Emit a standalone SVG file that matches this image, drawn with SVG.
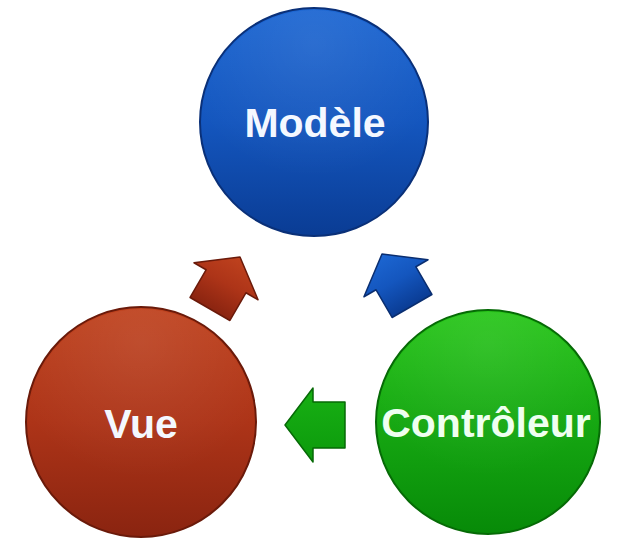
<svg xmlns="http://www.w3.org/2000/svg" width="623" height="542" viewBox="0 0 623 542">
<defs>
<linearGradient id="gBlue" x1="0" y1="0" x2="0" y2="1"><stop offset="0" stop-color="#1c66d2"/><stop offset="0.5" stop-color="#1456be"/><stop offset="1" stop-color="#0a3c94"/></linearGradient>
<linearGradient id="gRed" x1="0" y1="0" x2="0" y2="1"><stop offset="0" stop-color="#bf421e"/><stop offset="0.5" stop-color="#ad3418"/><stop offset="1" stop-color="#8a2410"/></linearGradient>
<linearGradient id="gGreen" x1="0" y1="0" x2="0" y2="1"><stop offset="0" stop-color="#28c61a"/><stop offset="0.5" stop-color="#16a812"/><stop offset="1" stop-color="#078a08"/></linearGradient>
<linearGradient id="gGreenA" x1="0" y1="0" x2="1" y2="0"><stop offset="0" stop-color="#0c9a0c"/><stop offset="1" stop-color="#18b014"/></linearGradient>
<radialGradient id="shine" cx="0.5" cy="0.15" r="0.6"><stop offset="0" stop-color="#fff" stop-opacity="0.08"/><stop offset="1" stop-color="#fff" stop-opacity="0"/></radialGradient>
<path id="arrow" d="M0,-30 L37,-2 L23,-2 L23,30 L-23,30 L-23,-2 L-37,-2 Z"/>
</defs>
<style>
.node circle.body{stroke-width:2}
.lbl{font-family:"Liberation Sans",Arial,sans-serif;font-weight:bold;font-size:41px;fill:#f4f8ff;text-anchor:middle}
.arr{stroke-width:1.5;stroke-linejoin:round}
</style>
<rect width="623" height="542" fill="#ffffff"/>
<g id="connectors">
<use href="#arrow" class="arr" fill="url(#gRed)" stroke="#6a1a0a" transform="translate(225,283) rotate(30)"/>
<use href="#arrow" class="arr" fill="url(#gBlue)" stroke="#0a2e70" transform="translate(397,280) rotate(-30)"/>
<use href="#arrow" class="arr" fill="url(#gGreenA)" stroke="#066a06" transform="translate(315,425) rotate(-90)"/>
</g>
<g id="modele" class="node">
<circle class="body" cx="314" cy="122" r="114" fill="url(#gBlue)" stroke="#0a3078"/>
<circle cx="314" cy="122" r="112" fill="url(#shine)"/>
<text class="lbl" x="315" y="137">Modèle</text>
</g>
<g id="vue" class="node">
<circle class="body" cx="141" cy="422" r="115" fill="url(#gRed)" stroke="#6a1a0a"/>
<circle cx="141" cy="422" r="113" fill="url(#shine)"/>
<text class="lbl" x="141" y="438">Vue</text>
</g>
<g id="controleur" class="node">
<circle class="body" cx="488" cy="422" r="112" fill="url(#gGreen)" stroke="#066a06"/>
<circle cx="488" cy="422" r="110" fill="url(#shine)"/>
<text class="lbl" x="486" y="437" style="fill:#effff0">Contrôleur</text>
</g>
</svg>
